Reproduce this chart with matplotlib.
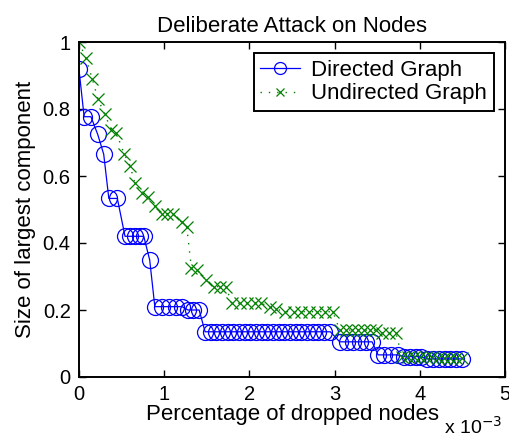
import numpy as np
import matplotlib
matplotlib.use('Agg')
import matplotlib.pyplot as plt

plt.rcParams['font.family'] = ['Liberation Sans', 'DejaVu Sans']

# Directed graph (x in units of 1e-3)
dir_x = [0.00, 0.06, 0.14, 0.22, 0.29, 0.35, 0.45, 0.54, 0.60, 0.66, 0.72, 0.76,
         0.83, 0.89, 0.98, 1.06, 1.14, 1.21, 1.28, 1.34, 1.41,
         1.48, 1.55, 1.61, 1.68, 1.75, 1.81, 1.88, 1.95, 2.01, 2.08, 2.15, 2.21,
         2.28, 2.35, 2.41, 2.48, 2.55, 2.61, 2.68, 2.75, 2.81, 2.88, 2.95,
         3.06, 3.14, 3.22, 3.30, 3.37, 3.44,
         3.51, 3.58, 3.66, 3.74, 3.81, 3.88, 3.95, 4.01,
         4.08, 4.15, 4.22, 4.29, 4.36, 4.43, 4.49]
dir_y = [0.918, 0.777, 0.777, 0.724, 0.665, 0.533, 0.533, 0.42, 0.42, 0.42, 0.42, 0.42,
         0.349, 0.21, 0.21, 0.21, 0.21, 0.21, 0.20, 0.20, 0.20,
         0.135, 0.135, 0.135, 0.135, 0.135, 0.135, 0.135, 0.135, 0.135, 0.135, 0.135, 0.135,
         0.135, 0.135, 0.135, 0.135, 0.135, 0.135, 0.135, 0.135, 0.135, 0.135, 0.135,
         0.105, 0.105, 0.105, 0.105, 0.105, 0.105,
         0.066, 0.066, 0.066, 0.066, 0.061, 0.061, 0.061, 0.061,
         0.054, 0.054, 0.054, 0.054, 0.054, 0.054, 0.054]

# Undirected graph
und_x = [0.00, 0.078, 0.156, 0.223, 0.30, 0.38, 0.44, 0.53, 0.60, 0.657, 0.735, 0.81,
         0.89, 0.97, 1.03, 1.10, 1.205, 1.264, 1.32, 1.39, 1.49, 1.58, 1.655, 1.725,
         1.79, 1.89, 1.975, 2.07, 2.14, 2.24, 2.31,
         2.42, 2.52, 2.61, 2.70, 2.79, 2.89, 2.98,
         3.06, 3.13, 3.20, 3.27, 3.34, 3.41, 3.49, 3.56, 3.64, 3.72,
         3.79, 3.86, 3.93, 4.00, 4.07, 4.14, 4.21, 4.28, 4.35, 4.42, 4.49]
und_y = [1.0, 0.953, 0.89, 0.829, 0.786, 0.737, 0.727, 0.666, 0.63, 0.578, 0.548, 0.538,
         0.51, 0.486, 0.488, 0.488, 0.462, 0.449, 0.324, 0.319, 0.29, 0.27, 0.27, 0.27,
         0.22, 0.22, 0.22, 0.22, 0.22, 0.21, 0.203,
         0.195, 0.195, 0.195, 0.195, 0.195, 0.195, 0.195,
         0.14, 0.14, 0.14, 0.14, 0.14, 0.14, 0.14, 0.131, 0.131, 0.131,
         0.061, 0.061, 0.061, 0.061, 0.061, 0.061, 0.058, 0.058, 0.058, 0.058, 0.056]

fig = plt.figure(figsize=(5.1, 4.41), dpi=100)
ax = fig.add_axes([79/510, 1 - 377/441, 426/510, 335/441])

ax.plot(dir_x, dir_y, '-o', color='blue', mfc='none', ms=11.5, mew=0.9, lw=0.9,
        label='Directed Graph')
ax.plot(und_x, und_y, 'x', color='#008000', ms=8.5, mew=0.9, lw=1.0,
        linestyle=(0, (1, 5)), label='Undirected Graph')

ax.set_xlim(0, 5)
ax.set_ylim(0, 1)
ax.set_xticks([0, 1, 2, 3, 4, 5])
ax.set_yticks([0, 0.2, 0.4, 0.6, 0.8, 1])
ax.set_yticklabels(['0', '0.2', '0.4', '0.6', '0.8', '1'])
ax.tick_params(direction='in', top=True, right=True, length=5, width=1,
               labelsize=14.5, pad=6)
for s in ax.spines.values():
    s.set_linewidth(1.4)

ax.set_title('Deliberate Attack on Nodes', fontsize=16, pad=7)
ax.set_xlabel('Percentage of dropped nodes', fontsize=16, labelpad=0)
ax.set_ylabel('Size of largest component', fontsize=16, labelpad=5)
fig.text(444/510, 3/441, r'x 10$^{-3}$', fontsize=14, va='bottom')

leg = ax.legend(loc='upper right', fontsize=16, fancybox=False, framealpha=1,
                edgecolor='black', handlelength=1.8, handletextpad=0.5,
                borderaxespad=0.5, borderpad=0.3, labelspacing=0.12,
                markerscale=0.75)
leg.get_frame().set_linewidth(1.4)

fig.savefig('out.png', dpi=100)
